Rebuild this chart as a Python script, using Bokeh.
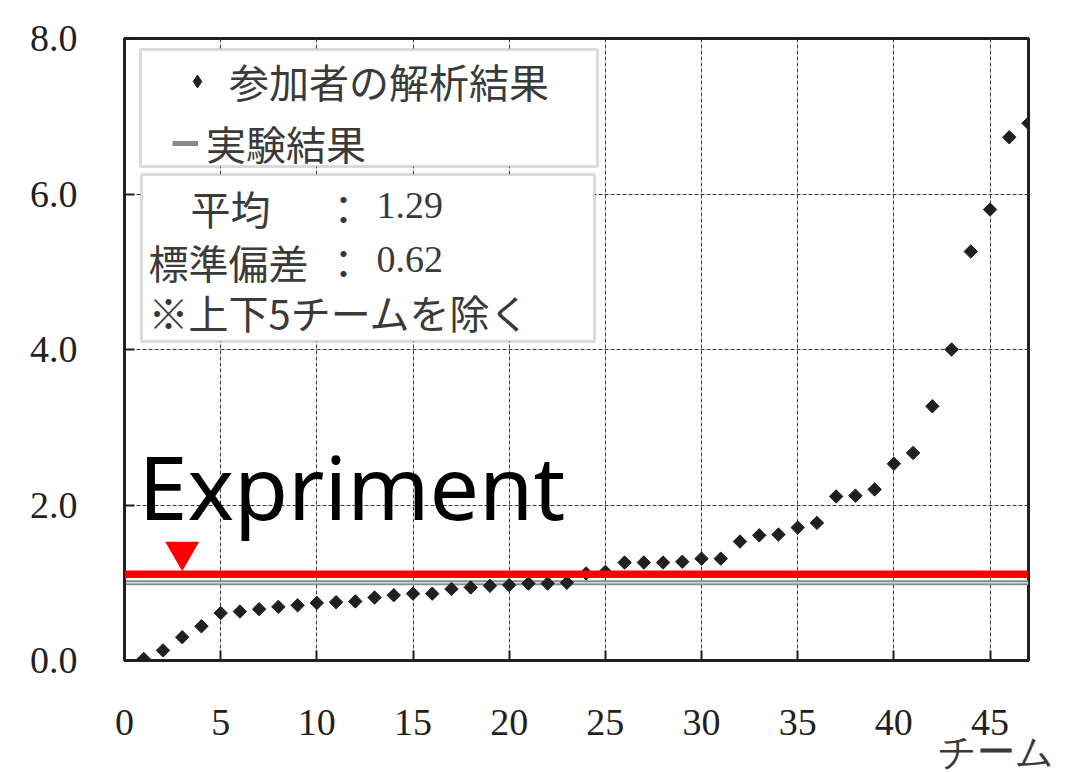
import math
from bokeh.plotting import figure
from bokeh.models import (Range1d, FixedTicker, NumeralTickFormatter, Legend, LegendItem,
                          BoxAnnotation, Label, Span, ColumnDataSource, Title)
from bokeh.embed import file_html
from bokeh.resources import INLINE

# ---------------- data ----------------
teams = list(range(1, 48))
values = [0.02, 0.13, 0.30, 0.44, 0.61, 0.63, 0.66, 0.69, 0.71, 0.74,
          0.75, 0.76, 0.81, 0.84, 0.86, 0.86, 0.92, 0.94, 0.96, 0.97,
          0.99, 0.99, 1.00, 1.12, 1.14, 1.26, 1.26, 1.26, 1.27, 1.31,
          1.31, 1.53, 1.61, 1.62, 1.71, 1.77, 2.11, 2.12, 2.20, 2.53,
          2.67, 3.27, 4.00, 5.26, 5.80, 6.73, 6.91]
experiment_value = 1.0
highlight_value = 1.11
marker_team = [3]
marker_value = [1.40]
x_ticks = [0, 5, 10, 15, 20, 25, 30, 35, 40, 45]
y_ticks = [0, 2, 4, 6, 8]
X_START, X_END = 0, 47
Y_START, Y_END = 0, 8

legend_points = "参加者の解析結果"
legend_line = "実験結果"
stat_lines = [("平均", "1.29"), ("標準偏差", "0.62")]
note_text = "※上下5チームを除く"
x_label = "チーム"
overlay_text = "Expriment"

INK = "#231f20"
TXT = "#3a3a3a"
SERIF = "Liberation Serif"
CJK = "Noto Sans CJK JP"

p = figure(width=1066, height=770, output_backend="svg", toolbar_location=None,
           x_range=Range1d(X_START, X_END), y_range=Range1d(Y_START, Y_END),
           min_border_left=124, min_border_right=38, min_border_top=38, min_border_bottom=110,
           background_fill_color="white", border_fill_color="white")

p.outline_line_color = INK
p.outline_line_width = 3

for ax, ticks in ((p.xaxis, x_ticks), (p.yaxis, y_ticks)):
    ax.ticker = FixedTicker(ticks=ticks)
    ax.axis_line_color = INK
    ax.axis_line_width = 3
    ax.major_tick_in = 10
    ax.major_tick_out = 0
    ax.major_tick_line_color = INK
    ax.major_tick_line_width = 2
    ax.minor_tick_line_color = None
    ax.major_label_text_font = SERIF
    ax.major_label_text_font_size = "38px"
    ax.major_label_text_color = INK
p.xaxis.major_label_standoff = 49
p.yaxis.major_label_standoff = 47
p.yaxis.formatter = NumeralTickFormatter(format="0.0")

# x-axis title at the lower right, below the "45" tick label
p.add_layout(Title(text=x_label, align="right", offset=-25, standoff=-13, vertical_align="top",
                   text_font=SERIF, text_font_size="38px", text_font_style="normal",
                   text_color=TXT), "below")

for g, ticks in ((p.xgrid, x_ticks), (p.ygrid, y_ticks)):
    g.ticker = FixedTicker(ticks=ticks)
    g.grid_line_color = "#3a3a3a"
    g.grid_line_width = 1
    g.grid_line_dash = "4 2"

# experiment result line (grey double line)
exp_line = p.line(x=[X_START, X_END], y=[experiment_value, experiment_value],
                  line_color="#8a8a8a", line_width=5)
p.line(x=[X_START, X_END], y=[experiment_value, experiment_value],
       line_color="#d6d6d6", line_width=1.5)

src = ColumnDataSource(data=dict(team=teams, value=values))
pts = p.scatter(x="team", y="value", source=src, marker="square", angle=math.pi / 4,
                size=9.5, fill_color=INK, line_color=INK)
# hidden legend proxy showing the diamond symbol
pts_proxy = p.scatter(x=teams[:1], y=values[:1], marker="diamond",
                      fill_color=INK, line_color=INK, visible=False)

# highlight overlay
p.add_layout(Span(location=highlight_value, dimension="width", line_color="#ff0000", line_width=7.5))
p.scatter(x=marker_team, y=marker_value, marker="inverted_triangle", size=34,
          fill_color="#ff0000", line_color=None)

# boxes
box1 = BoxAnnotation(left=16, right=473, top=611, bottom=494,
                     left_units="screen", right_units="screen", top_units="screen", bottom_units="screen",
                     fill_color="white", fill_alpha=1, line_color="#858585", line_width=3)
box2 = BoxAnnotation(left=17, right=470, top=486, bottom=319,
                     left_units="screen", right_units="screen", top_units="screen", bottom_units="screen",
                     fill_color="white", fill_alpha=1, line_color="#858585", line_width=3)
p.add_layout(box1)
p.add_layout(box2)

def make_legend(item, loc, gw, standoff):
    return Legend(items=[item], location=loc, orientation="vertical",
                  glyph_width=gw, glyph_height=44, label_height=44, label_standoff=standoff,
                  padding=0, margin=0, spacing=0,
                  border_line_alpha=0, background_fill_alpha=0, inactive_fill_alpha=0,
                  label_text_font=CJK, label_text_font_size="40px", label_text_color=TXT)

p.add_layout(make_legend(LegendItem(label=legend_points, renderers=[pts_proxy]), (57, 550), 32, 16))
p.add_layout(make_legend(LegendItem(label=legend_line, renderers=[exp_line]), (48, 488), 26, 8))

# statistics text
ys = [453, 399]
for (name, val), yy in zip(stat_lines, ys):
    p.add_layout(Label(x=66 if name == "平均" else 24, y=yy, x_units="screen", y_units="screen",
                       text=name, text_font=CJK, text_font_size="40px", text_color=TXT,
                       text_baseline="middle"))
    p.add_layout(Label(x=199, y=yy, x_units="screen", y_units="screen",
                       text="：", text_font=CJK, text_font_size="40px", text_color=TXT,
                       text_baseline="middle"))
    p.add_layout(Label(x=252, y=yy + 2, x_units="screen", y_units="screen",
                       text=val, text_font=SERIF, text_font_size="38px", text_color=TXT,
                       text_baseline="middle"))
p.add_layout(Label(x=24, y=349, x_units="screen", y_units="screen",
                   text=note_text, text_font=CJK, text_font_size="40px", text_color=TXT,
                   text_baseline="middle"))

# overlay text
p.add_layout(Label(x=14, y=175, x_units="screen", y_units="screen",
                   text=overlay_text, text_font="Noto Sans", text_font_size="88px",
                   text_color="black", text_baseline="alphabetic"))

open("out.html", "w").write(file_html(p, INLINE))
